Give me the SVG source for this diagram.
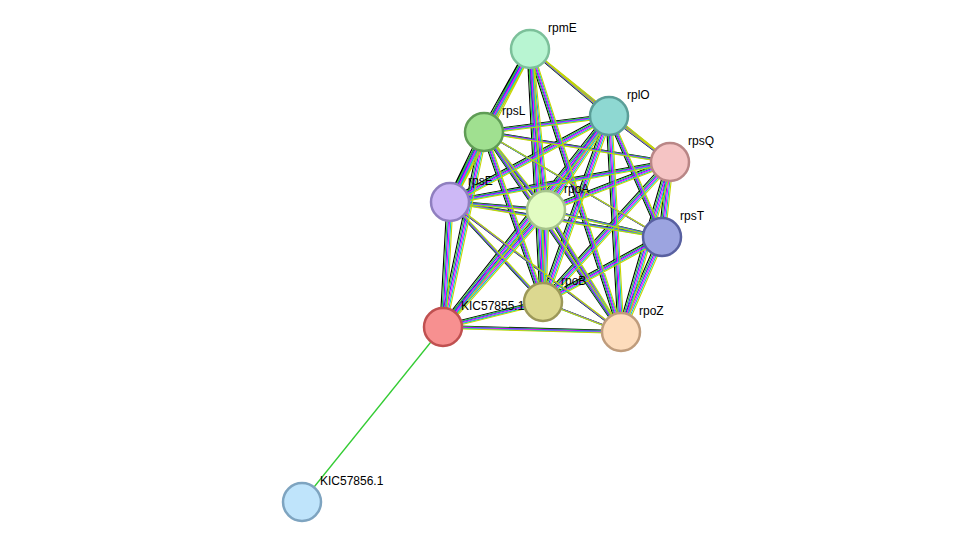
<svg xmlns="http://www.w3.org/2000/svg" xmlns:xlink="http://www.w3.org/1999/xlink" width="976" height="548" viewBox="0 0 976 548">
<style>
.n{stroke-width:2.5}
.t{font-family:"Liberation Sans",Arial,sans-serif;font-size:12px;fill:#000}
.e{fill:none;stroke-width:1.1}
</style>
<defs>
<path id="E" d="M530,49L609,116M530,49L484,132M530,49L670,162M530,49L450,202M530,49L546,210M530,49L543,302M530,49L621,332
M609,116L484,132M609,116L670,162M609,116L450,202M609,116L546,210M609,116L662,237M609,116L543,302M609,116L621,332
M484,132L670,162M484,132L450,202M484,132L546,210M484,132L662,237M484,132L543,302M484,132L443,327M484,132L621,332
M670,162L450,202M670,162L546,210M670,162L662,237M670,162L543,302M670,162L621,332
M450,202L546,210M450,202L662,237M450,202L543,302M450,202L443,327M450,202L621,332
M546,210L662,237M546,210L543,302M546,210L443,327M546,210L621,332
M662,237L543,302M662,237L621,332M543,302L443,327M543,302L621,332M443,327L621,332M443,327L609,116"/>
</defs>
<rect width="976" height="548" fill="#fff"/>
<g id="connectors" class="e">
<use xlink:href="#E" stroke="#000" transform="translate(-3,-1.5)"/>
<use xlink:href="#E" stroke="#33cc33" transform="translate(-1.8,-0.9)"/>
<use xlink:href="#E" stroke="#3333ff" transform="translate(-0.6,-0.3)"/>
<use xlink:href="#E" stroke="#ff00ff" transform="translate(0.6,0.3)"/>
<use xlink:href="#E" stroke="#00cccc" transform="translate(1.8,0.9)"/>
<use xlink:href="#E" stroke="#c8d400" transform="translate(3,1.5)"/>
<line x1="443" y1="327" x2="302" y2="502" stroke="#33cc33" stroke-width="1.3"/>
</g>
<g id="rpmE"><circle class="n" cx="530" cy="49" r="19" fill="#b8f5d2" stroke="#7cc09a"/><text class="t" x="548" y="32">rpmE</text></g>
<g id="rplO"><circle class="n" cx="609" cy="116" r="19" fill="#8ed8d2" stroke="#5a9e98"/><text class="t" x="627" y="99">rplO</text></g>
<g id="rpsL"><circle class="n" cx="484" cy="132" r="19" fill="#a0e090" stroke="#5f9c55"/><text class="t" x="502" y="115">rpsL</text></g>
<g id="rpsQ"><circle class="n" cx="670" cy="162" r="19" fill="#f5c4c4" stroke="#b98686"/><text class="t" x="688" y="145">rpsQ</text></g>
<g id="rpsE"><circle class="n" cx="450" cy="202" r="19" fill="#cdb8f6" stroke="#8f7fbf"/><text class="t" x="468" y="185">rpsE</text></g>
<g id="rpoA"><circle class="n" cx="546" cy="210" r="19" fill="#e2fcc2" stroke="#a6c48c"/><text class="t" x="564" y="193">rpoA</text></g>
<g id="rpsT"><circle class="n" cx="662" cy="237" r="19" fill="#9ca4e0" stroke="#5860a0"/><text class="t" x="680" y="220">rpsT</text></g>
<g id="rpoB"><circle class="n" cx="543" cy="302" r="19" fill="#dcd890" stroke="#9c9858"/><text class="t" x="561" y="285">rpoB</text></g>
<g id="KIC57855.1"><circle class="n" cx="443" cy="327" r="19" fill="#f79090" stroke="#c05050"/><text class="t" x="461" y="310">KIC57855.1</text></g>
<g id="rpoZ"><circle class="n" cx="621" cy="332" r="19" fill="#fddcbc" stroke="#bf9c7c"/><text class="t" x="639" y="315">rpoZ</text></g>
<g id="KIC57856.1"><circle class="n" cx="302" cy="502" r="19" fill="#bfe4fb" stroke="#7ea4c0"/><text class="t" x="320" y="485">KIC57856.1</text></g>
</svg>
